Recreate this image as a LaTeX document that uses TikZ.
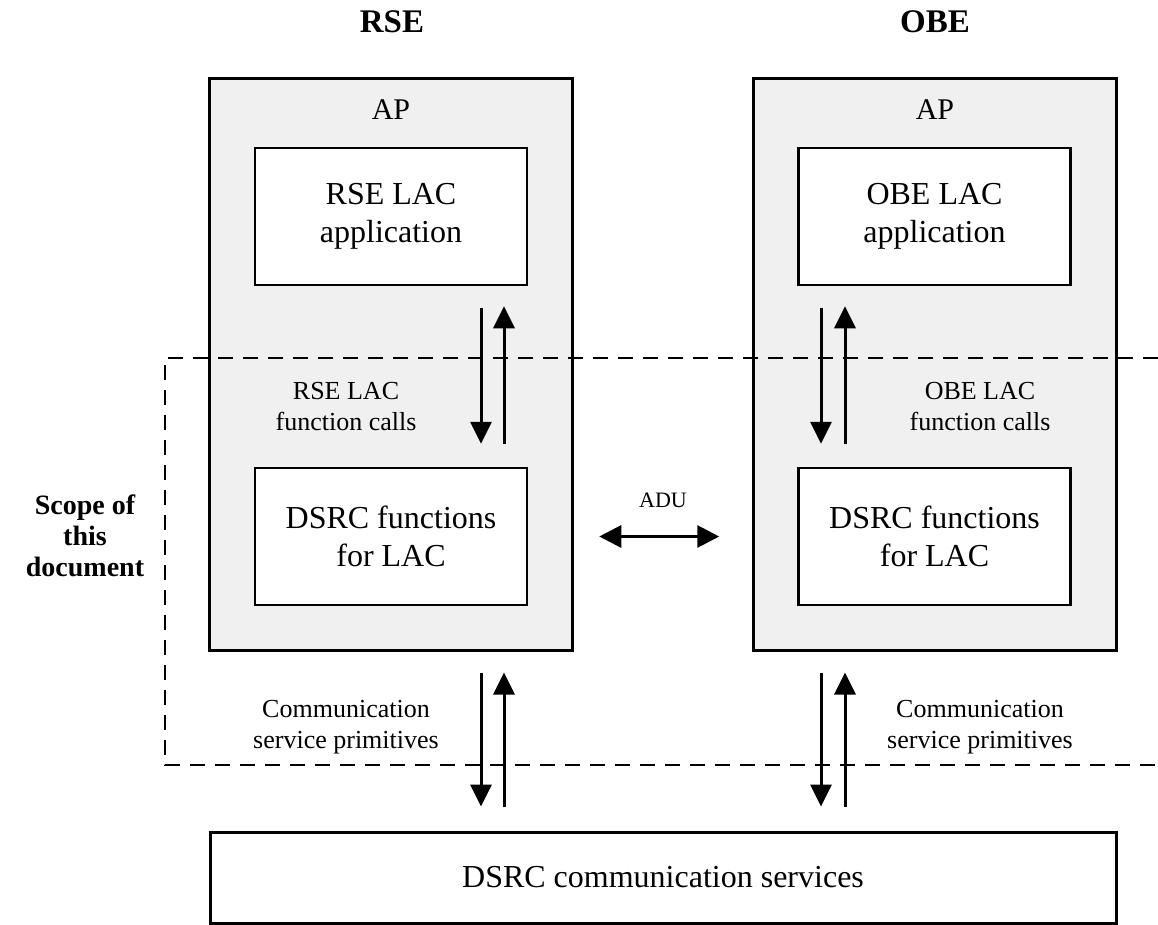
\documentclass[tikz,border=0pt]{standalone}
\usepackage{fontspec}
\setmainfont{Liberation Serif}
\usetikzlibrary{arrows.meta}

\begin{document}
\begin{tikzpicture}[x=1pt,y=-1pt,
        apbox/.style={draw=black, line width=3pt, fill=black!6,
            rectangle, inner sep=0pt,
            minimum width=363pt, minimum height=571pt},
        funcbox/.style={draw=black, line width=2.5pt, fill=white,
            rectangle, inner sep=0pt, align=center,
            minimum width=272pt, minimum height=137pt,
            font=\fontsize{32}{38}\selectfont},
        commbox/.style={draw=black, line width=3pt, fill=white,
            rectangle, inner sep=0pt,
            minimum width=906pt, minimum height=91pt,
            font=\fontsize{32}{38}\selectfont},
        flow/.style={line width=3pt, -{Triangle[length=22pt,width=21pt]}},
        twoway/.style={line width=3pt,
            {Triangle[length=22pt,width=22pt]}-{Triangle[length=22pt,width=22pt]}},
        scopeline/.style={line width=2.2pt, dash pattern=on 15pt off 10pt},
        lbl/.style={align=center, inner sep=0pt, font=\fontsize{26}{31}\selectfont},
        aplbl/.style={inner sep=0pt, font=\fontsize{30}{36}\selectfont},
        ttl/.style={inner sep=0pt, font=\bfseries\fontsize{33}{38}\selectfont}]
        \useasboundingbox (0,0) rectangle (1158,925);
        %titles
        \node[ttl] (rsettl) at (392,22) {RSE};
        \node[ttl] (obettl) at (935,22) {OBE};
        %AP frames
        \node[apbox] (rseap) at (390.5,364.5) {};
        \node[apbox] (obeap) at (934.5,364.5) {};
        \node[aplbl] (rseaptxt) at (391,110) {AP};
        \node[aplbl] (obeaptxt) at (935,110) {AP};
        %application and DSRC function boxes
        \node[funcbox] (rseapp) at (391,216.5) {RSE LAC\\application};
        \node[funcbox] (obeapp) at (934.5,216.5) {OBE LAC\\application};
        \node[funcbox] (rsedsrc) at (391,536.5) {DSRC functions\\for LAC};
        \node[funcbox] (obedsrc) at (934.5,536.5) {DSRC functions\\for LAC};
        %communication services
        \node[commbox] (comm) at (663,877.5) {DSRC communication services};
        %scope of this document
        \draw[scopeline] (1158,358) -- (165,358) -- (165,765) -- (1158,765);
        \node[align=center, inner sep=0pt, font=\bfseries\fontsize{28}{31}\selectfont]
            (scope) at (85,536) {Scope of\\this\\document};
        %function calls
        \draw[flow, shorten <=22pt, shorten >=23pt]
            ([xshift=90pt]rseapp.south) -- ([xshift=90pt]rsedsrc.north);
        \draw[flow, shorten <=23pt, shorten >=20pt]
            ([xshift=113pt]rsedsrc.north) -- ([xshift=113pt]rseapp.south);
        \draw[flow, shorten <=22pt, shorten >=23pt]
            ([xshift=-113.5pt]obeapp.south) -- ([xshift=-113.5pt]obedsrc.north);
        \draw[flow, shorten <=23pt, shorten >=20pt]
            ([xshift=-89.5pt]obedsrc.north) -- ([xshift=-89.5pt]obeapp.south);
        \node[lbl] (rsecalls) at (346,407) {RSE LAC\\function calls};
        \node[lbl] (obecalls) at (980,407) {OBE LAC\\function calls};
        %ADU
        \draw[twoway, shorten <=71pt, shorten >=78pt] (rsedsrc.east) -- (obedsrc.west);
        \node[inner sep=0pt, font=\fontsize{22}{26}\selectfont] (adu) at (663,500) {ADU};
        %service primitives
        \coordinate (rsedn) at ([xshift=90.5pt]rseap.south);
        \coordinate (rseup) at ([xshift=113.5pt]rseap.south);
        \coordinate (obedn) at ([xshift=-113.5pt]obeap.south);
        \coordinate (obeup) at ([xshift=-89.5pt]obeap.south);
        \draw[flow, shorten <=21pt, shorten >=24pt] (rsedn) -- (rsedn |- comm.north);
        \draw[flow, shorten <=24pt, shorten >=21pt] (rseup |- comm.north) -- (rseup);
        \draw[flow, shorten <=21pt, shorten >=24pt] (obedn) -- (obedn |- comm.north);
        \draw[flow, shorten <=24pt, shorten >=21pt] (obeup |- comm.north) -- (obeup);
        \node[lbl] (rseprim) at (346,727) {Communication\\service primitives};
        \node[lbl] (obeprim) at (980,727) {Communication\\service primitives};
\end{tikzpicture}
\end{document}
